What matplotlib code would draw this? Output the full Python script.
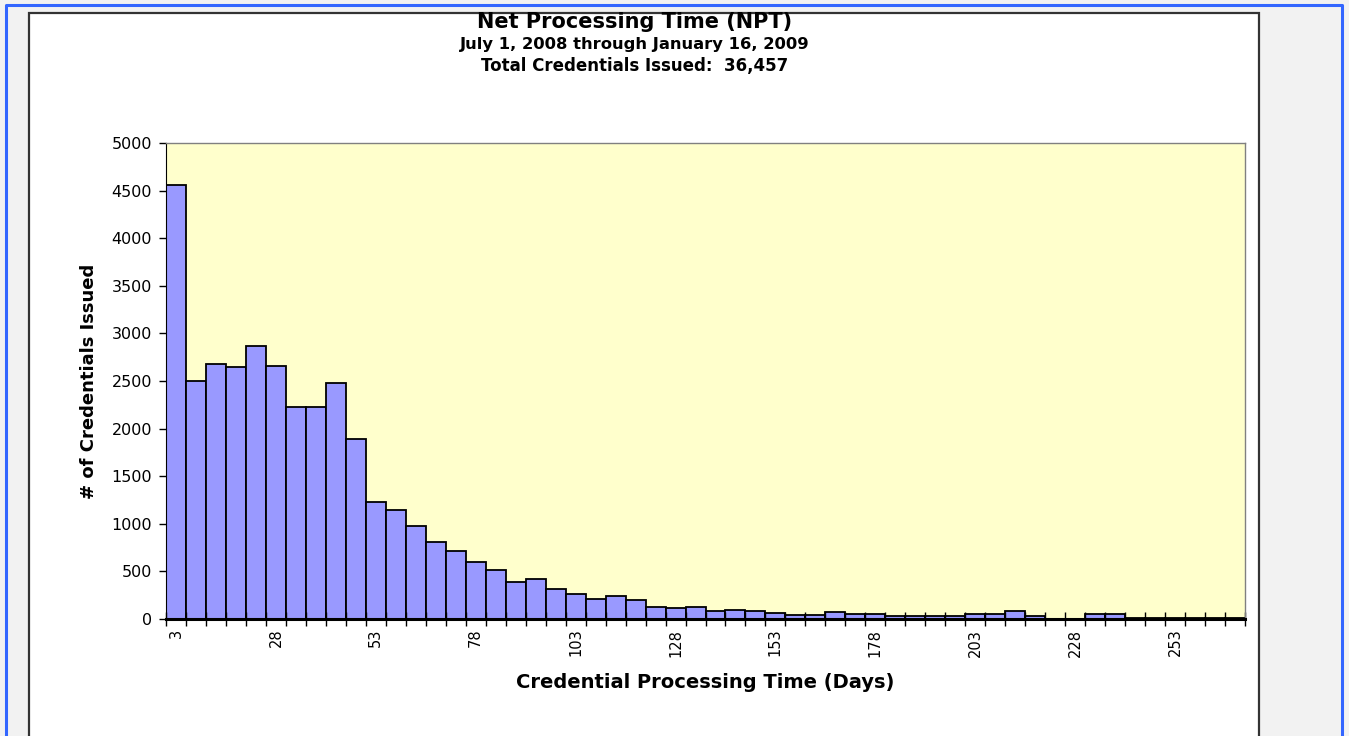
import numpy as np
import matplotlib
matplotlib.use("Agg")
import matplotlib.pyplot as plt
from matplotlib.patches import Rectangle

# category labels (days) and counts
days = [3, 8, 13, 18, 23, 28, 33, 38, 43, 48, 53, 58, 63, 68, 73, 78, 83, 88,
        93, 98, 103, 108, 113, 118, 123, 128, 133, 138, 143, 148, 153, 158,
        163, 168, 173, 178, 183, 188, 193, 198, 203, 208, 213, 218, 223, 228,
        233, 238, 243, 248, 253, 258, 263, 268]
counts = [4560, 2500, 2675, 2650, 2870, 2660, 2225, 2225, 2480, 1895,
          1230, 1150, 975, 810, 710, 600, 515, 390, 420, 320,
          262, 210, 245, 196, 130, 112, 130, 80, 98, 80,
          66, 45, 45, 70, 49, 49, 31, 31, 31, 31,
          52, 52, 84, 31, 5, 5, 52, 52, 8, 8,
          8, 8, 8, 8]
label_every = 5

W, H = 1349, 736
plt.rcParams['font.family'] = ['DejaVu Sans']

fig = plt.figure(figsize=(W / 100, H / 100), dpi=100)
fig.patch.set_facecolor('#f2f2f2')

def px(x, y):  # pixel (from top-left) -> figure fraction
    return x / W, 1 - y / H

# blue frame and white chart area (behind the axes)
x0, y0 = px(6, 5)
x1, _ = px(1342, 5)
fig.add_artist(plt.Line2D([x0, x0, x1, x1], [0, y0, y0, 0], color='#3366ff', lw=2.2,
                          transform=fig.transFigure, zorder=-2))
cx0, cy0 = px(28.5, 13)
cx1, _ = px(1259, 13)
fig.add_artist(Rectangle((cx0, -0.01), cx1 - cx0, cy0 + 0.01, transform=fig.transFigure,
                         facecolor='white', edgecolor='#333333', lw=1.6, zorder=-1))

# plot area
l, t = 166, 143
r, b = 1245, 619
ax = fig.add_axes([l / W, 1 - b / H, (r - l) / W, (b - t) / H])
ax.set_facecolor('#ffffcc')

xpos = np.arange(len(days))
ax.bar(xpos, counts, width=1.0, color='#9999ff', edgecolor='black', linewidth=1.3)

ax.set_xlim(-0.5, len(days) - 0.5)
ax.set_ylim(0, 5000)
ax.set_yticks(np.arange(0, 5001, 500))
ax.tick_params(axis='y', direction='out', length=5, width=1, labelsize=11.5, pad=5)

ax.set_xticks(xpos[::label_every])
ax.set_xticklabels([str(d) for d in days[::label_every]], rotation=90, fontsize=10.5)
ax.tick_params(axis='x', which='major', length=0, pad=7)
ax.set_xticks(np.arange(-0.5, len(days), 1), minor=True)
ax.tick_params(axis='x', which='minor', direction='inout', length=10, width=1)

for s in ['top', 'right']:
    ax.spines[s].set_color('#808080')
    ax.spines[s].set_linewidth(1)
ax.spines['left'].set_color('black')
ax.spines['bottom'].set_color('black')
ax.spines['bottom'].set_linewidth(2.2)
ax.spines['bottom'].set_zorder(5)

ax.set_ylabel('# of Credentials Issued', fontsize=13, fontweight='bold', labelpad=10)
ax.set_xlabel('Credential Processing Time (Days)', fontsize=14, fontweight='bold', labelpad=12)

# titles
fig.text(*px(635, 22), 'Net Processing Time (NPT)', ha='center', va='center',
         fontsize=15, fontweight='bold')
fig.text(*px(635, 44), 'July 1, 2008 through January 16, 2009', ha='center', va='center',
         fontsize=11.8, fontweight='bold')
fig.text(*px(635, 66), 'Total Credentials Issued:  36,457', ha='center', va='center',
         fontsize=12, fontweight='bold')

fig.savefig('out.png', dpi=100, facecolor=fig.get_facecolor())
